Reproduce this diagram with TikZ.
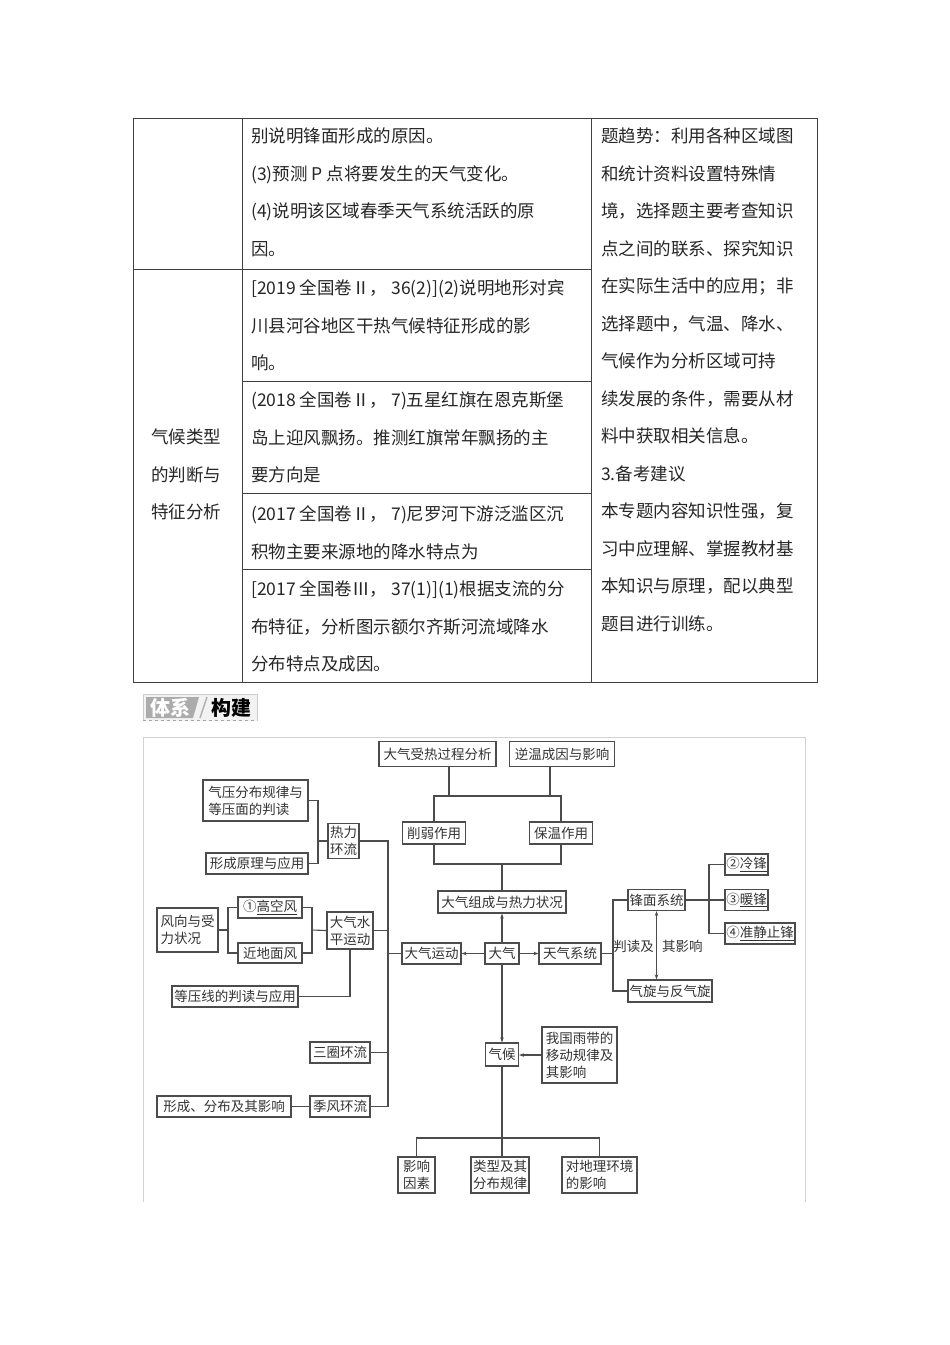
\documentclass[tikz,border=0pt]{standalone}
\usepackage{fontspec}
\setmainfont{Noto Sans CJK SC}
\usetikzlibrary{arrows.meta}

\begin{document}
\begin{tikzpicture}[
    x=1pt, y=-1pt,
    cell/.style={anchor=north west,inner sep=0pt,align=left,text=black!85,font=\fontsize{17.5}{37.5}\selectfont},
    grid/.style={draw=black!75,line width=0.9pt},
    box/.style={draw=black!70,line width=1.1pt,fill=white,inner sep=0pt,align=left,text=black!80,font=\fontsize{13.5}{17}\selectfont},
    sz/.style 2 args={minimum width=#1pt,minimum height=#2pt},
    lbl/.style={inner sep=1pt,text=black!80,font=\fontsize{13.5}{17}\selectfont},
    ln/.style={draw=black!70,line width=1.1pt},
    arr/.style={ln,-{Stealth[length=5pt,width=3.5pt]}}
]
\useasboundingbox (0,0) rectangle (950,1345);

% table
\draw[grid] (133,118) rectangle (817,682);
\draw[grid] (242,118) -- (242,682);
\draw[grid] (591,118) -- (591,682);
\draw[grid] (133,269) -- (591,269);
\draw[grid] (242,381) -- (591,381);
\draw[grid] (242,493) -- (591,493);
\draw[grid] (242,569) -- (591,569);

\node[cell,anchor=north,align=center] (kind) at (186,417.4) {\strut 气候类型\\的判断与\\特征分析};
\node[cell] (q1) at (251,116.4) {\strut 别说明锋面形成的原因。\\(3)预测 P 点将要发生的天气变化。\\(4)说明该区域春季天气系统活跃的原\\因。};
\node[cell] (q2) at (251,268.4) {\strut [2019 全国卷Ⅱ，\ 36(2)](2)说明地形对宾\\川县河谷地区干热气候特征形成的影\\响。};
\node[cell] (q3) at (251,380.4) {\strut (2018 全国卷Ⅱ，\ 7)五星红旗在恩克斯堡\\岛上迎风飘扬。推测红旗常年飘扬的主\\要方向是};
\node[cell] (q4) at (251,494.4) {\strut (2017 全国卷Ⅱ，\ 7)尼罗河下游泛滥区沉\\积物主要来源地的降水特点为};
\node[cell] (q5) at (251,569.4) {\strut [2017 全国卷Ⅲ，\ 37(1)](1)根据支流的分\\布特征，分析图示额尔齐斯河流域降水\\分布特点及成因。};
\node[cell] (trend) at (601,116.4) {\strut 题趋势：利用各种区域图\\和统计资料设置特殊情\\境，选择题主要考查知识\\点之间的联系、探究知识\\在实际生活中的应用；非\\选择题中，气温、降水、\\气候作为分析区域可持\\续发展的条件，需要从材\\料中获取相关信息。\\3.备考建议\\本专题内容知识性强，复\\习中应理解、掌握教材基\\本知识与原理，配以典型\\题目进行训练。};

% heading
\fill[gray!10] (143,694) rectangle (257,721);
\draw[gray!40,line width=0.8pt] (143,721) -- (143,694) -- (257,694) -- (257,721);
\fill[gray!65] (146,697) -- (199,697) -- (193,718) -- (146,718) -- cycle;
\draw[gray!60,line width=1.5pt] (207,697) -- (200,718);
\node[text=white,font=\fontsize{20}{20}\selectfont\bfseries] (hd1) at (170,707.5) {体系};
\node[text=black,font=\fontsize{20}{20}\selectfont\bfseries] (hd2) at (231,707.5) {构建};
\draw[gray!70,dashed,line width=0.8pt] (143,720.5) -- (257,720.5);

% frame
\draw[gray!35,line width=0.8pt] (143,1202) -- (143,737) -- (805,737) -- (805,1202);

% nodes
\node[box,sz={117}{25}] (heat) at (437.5,754) {大气受热过程分析};
\node[box,sz={105}{25}] (inver) at (562,754) {逆温成因与影响};
\node[box,sz={63}{22}] (weak) at (434,833) {削弱作用};
\node[box,sz={63}{22}] (keep) at (561,833) {保温作用};
\node[box,sz={128}{22}] (comp) at (502,902) {大气组成与热力状况};
\node[box,sz={34}{21}] (atm) at (502,953.5) {大气};
\node[box,sz={59}{21}] (motion) at (431.5,953.5) {大气运动};
\node[box,sz={62}{21}] (wsys) at (570,953.5) {天气系统};
\node[box,sz={57}{21}] (front) at (656.5,900) {锋面系统};
\node[box,sz={84}{22}] (cyc) at (670,991) {气旋与反气旋};
\node[box,sz={43}{21}] (cold) at (746.5,864.5) {②\underline{冷锋}};
\node[box,sz={43}{21}] (warm) at (746.5,900) {③\underline{暖锋}};
\node[box,sz={70}{21}] (stat) at (760,933.5) {④\underline{准静止锋}};
\node[box,sz={105}{41}] (press) at (255.5,800.5) {气压分布规律与\\等压面的判读};
\node[box,sz={102}{21}] (form) at (257,863.5) {形成原理与应用};
\node[box,sz={31}{35}] (therm) at (343.5,841) {热力\\环流};
\node[box,sz={46}{37}] (horiz) at (350,930.5) {大气水\\平运动};
\node[box,sz={61}{44}] (wind) at (187.5,930) {风向与受\\力状况};
\node[box,sz={64}{21}] (upper) at (270,907.5) {①\underline{高空风}};
\node[box,sz={64}{20}] (surf) at (270,953) {近地面风};
\node[box,sz={126}{21}] (isob) at (235,996.5) {等压线的判读与应用};
\node[box,sz={60}{21}] (tri) at (340,1052.5) {三圈环流};
\node[box,sz={60}{21}] (mons) at (340,1106.5) {季风环流};
\node[box,sz={134}{21}] (mform) at (224,1106.5) {形成、分布及其影响};
\node[box,sz={33}{23}] (clim) at (502,1054.5) {气候};
\node[box,sz={75}{56}] (rain) at (579.5,1055) {我国雨带的\\移动规律及\\其影响};
\node[box,sz={37}{36}] (fact) at (416.5,1175) {影响\\因素};
\node[box,sz={58}{36}] (type) at (500,1175) {类型及其\\分布规律};
\node[box,sz={75}{36}] (env) at (599.5,1175) {对地理环境\\的影响};
\node[lbl,anchor=east] (rd1) at (655,946) {判读及};
\node[lbl,anchor=west] (rd2) at (661,946) {其影响};

% junction points
\coordinate (h1) at (449,796);
\coordinate (h2) at (550,796);
\coordinate (tl) at (434,796);
\coordinate (tr) at (561,796);
\coordinate (bl) at (434,864);
\coordinate (br) at (561,864);
\coordinate (wx) at (613,953.5);
\coordinate (fx) at (709,900);
\coordinate (px) at (318,841);
\coordinate (vx) at (388,841);
\coordinate (lx) at (228,930);
\coordinate (ux) at (312,930);
\coordinate (cy) at (502,1138);

% top part
\draw[ln] (heat.south -| h1) -- (h1);
\draw[ln] (inver.south -| h2) -- (h2);
\draw[ln] (weak.north) -- (tl) -- (tr) -- (keep.north);
\draw[ln] (weak.south) -- (bl) -- (br) -- (keep.south);
\draw[ln] (comp.north) -- (comp.north |- bl);
\draw[arr] (atm) -- (comp);
\draw[arr] (atm) -- (motion);
\draw[arr] (atm) -- (wsys);
\draw[arr] (atm) -- (clim);
\draw[arr] (rain.west) -- (rain.west -| clim.east);

% weather systems
\draw[ln] (wsys.east) -- (wx);
\draw[ln] (front.west) -| (wx |- cyc.west) -- (cyc.west);
\draw[ln,{Stealth[length=5pt,width=3.5pt]}-{Stealth[length=5pt,width=3.5pt]}] (front.south) -- (front.south |- cyc.north);
\draw[ln] (front.east) -- (warm.west);
\draw[ln] (cold.west) -| (fx |- stat.west) -- (stat.west);

% left part
\draw[ln] (press.east) -| (px |- form.east) -- (form.east);
\draw[ln] (px) -- (therm.west);
\draw[ln] (therm.east) -| (vx |- mons.east) -- (mons.east);
\draw[ln] (horiz.east) -- (horiz.east -| vx);
\draw[ln] (motion.west) -- (motion.west -| vx);
\draw[ln] (tri.east) -- (tri.east -| vx);
\draw[ln] (wind.east) -- (lx);
\draw[ln] (upper.west) -| (lx |- surf.west) -- (surf.west);
\draw[ln] (upper.east) -| (ux |- surf.east) -- (surf.east);
\draw[ln] (ux) -- (horiz.west);
\draw[ln] (isob.east) -| (horiz.south);
\draw[ln] (mform) -- (mons);

% climate
\draw[ln] (clim.south) -- (clim.south |- type.north);
\draw[ln] (fact.north) -- (fact.north |- cy) -- (env.north |- cy) -- (env.north);
\end{tikzpicture}
\end{document}
